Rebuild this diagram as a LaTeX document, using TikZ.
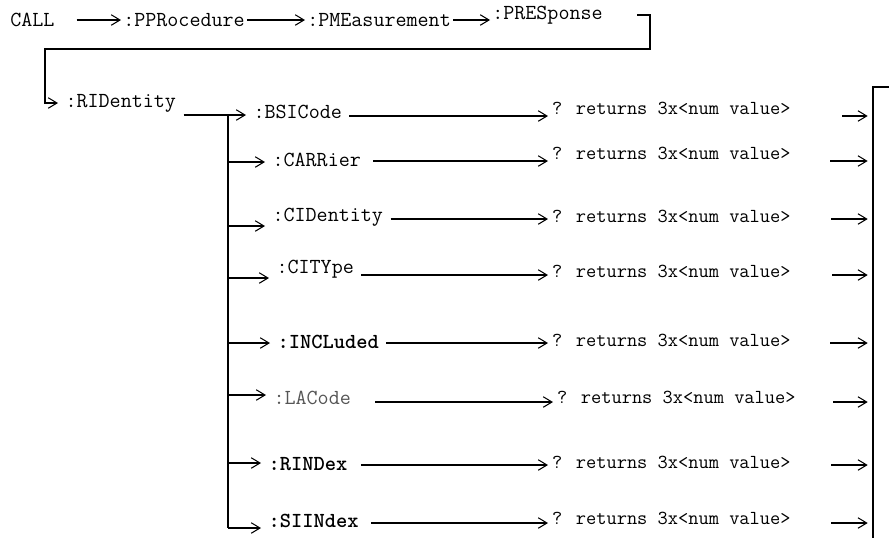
\documentclass[tikz,border=0pt]{standalone}
\usepackage{fontspec}
\usetikzlibrary{arrows.meta,calc}
\definecolor{cmdGray}{HTML}{555555}

\begin{document}
\begin{tikzpicture}[x=0.02cm,y=-0.02cm, line width=0.6pt,
    hdr/.style={anchor=west, inner xsep=1pt, inner ysep=1pt, font=\ttfamily\fontsize{12.2}{14}\selectfont},
    cmd/.style={hdr, inner xsep=4pt},
    ret/.style={hdr, inner xsep=2pt, font=\ttfamily\fontsize{11.3}{13}\selectfont},
    tip/.style={-{Straight Barb[length=5pt,width=6pt]}},
    exit/.style={tip, shorten >=3pt}]
    \useasboundingbox (0,0) rectangle (889,538);
    % command path
    \node[hdr] (call) at (8,20) {CALL};
    \node[hdr] (ppr) at (121,20) {:PPRocedure};
    \node[hdr] (pme) at (305,20) {:PMEasurement};
    \node[hdr] (pres) at (490,15) {:PRESponse};
    \draw[tip] ($(call.east)+(20,0)$) -- (ppr.west);
    \draw[tip] (ppr.east) -- (pme.west);
    \draw[tip] (pme.east) -- (pme.east -| pres.west);
    \node[cmd] (rid) at (58,103) {:RIDentity};
    \coordinate (hook) at (637,15);
    \coordinate (turn) at (45,49);
    \draw[tip] (hook) -- ++(13,0) |- (turn) |- (rid.west);
    % spine and result bar
    \coordinate (spinetop) at (228,115);
    \coordinate (spinebot) at (228,528);
    \coordinate (bartop) at (873,87);
    \coordinate (barbot) at (873,538);
    \draw (spinetop) -- (spinebot);
    \draw (889,87) -- (bartop) -- (barbot);
    % :BSICode
    \node[cmd] (bsi) at (246,112) {:BSICode};
    \node[ret] (bsiq) at (548,108) {? returns 3x<num value>};
    \coordinate (bsio) at (842,116);
    \draw[tip] (rid.east |- spinetop) -- (spinetop -| bsi.west);
    \draw[tip] (bsi.east |- bsio) -- (bsiq.west |- bsio);
    \draw[exit] (bsio) -- (bsio -| bartop);
    % :CARRier
    \node[cmd] (car) at (265,160) {:CARRier};
    \node[ret] (carq) at (548,153) {? returns 3x<num value>};
    \coordinate (cari) at (228,162);
    \coordinate (caro) at (830,161);
    \draw[tip] (cari) -- (cari -| car.west);
    \draw[tip] ($(car.east |- caro)+(5,0)$) -- (carq.west |- caro);
    \draw[exit] (caro) -- (caro -| bartop);
    % :CIDentity
    \node[cmd] (cid) at (265,217) {:CIDentity};
    \node[ret] (cidq) at (548,216) {? returns 3x<num value>};
    \coordinate (cidi) at (228,226);
    \coordinate (cido) at (831,219);
    \draw[tip] (cidi) -- (cidi -| cid.west);
    \draw[tip] (cid.east |- cido) -- (cidq.west |- cido);
    \draw[exit] (cido) -- (cido -| bartop);
    % :CITYpe
    \node[cmd] (cit) at (269,269) {:CITYpe};
    \node[ret] (citq) at (548,271) {? returns 3x<num value>};
    \coordinate (citi) at (228,278);
    \coordinate (cito) at (832,275);
    \draw[tip] (citi) -- (citi -| cit.west);
    \draw[tip] (cit.east |- cito) -- (citq.west |- cito);
    \draw[exit] (cito) -- (cito -| bartop);
    % :INCLuded
    \node[cmd, font=\ttfamily\bfseries\fontsize{12.2}{14}\selectfont] (inc) at (270,342) {:INCLuded};
    \node[ret] (incq) at (548,340) {? returns 3x<num value>};
    \coordinate (inci) at (228,343);
    \coordinate (inco) at (830,343);
    \draw[tip] (inci) -- (inci -| inc.west);
    \draw[tip] (inc.east |- inco) -- (incq.west |- inco);
    \draw[exit] (inco) -- (inco -| bartop);
    % :LACode
    \node[cmd, text=cmdGray] (lac) at (266,398) {:LACode};
    \node[ret] (lacq) at (553,397) {? returns 3x<num value>};
    \coordinate (laci) at (228,395);
    \coordinate (laco) at (833,402);
    \draw[tip] (laci) -- (laci -| lac.west);
    \draw[tip] ($(lac.east |- laco)+(17,0)$) -- (lacq.west |- laco);
    \draw[exit] (laco) -- (laco -| bartop);
    % :RINDex
    \node[cmd, font=\ttfamily\bfseries\fontsize{12.2}{14}\selectfont] (rin) at (261,464) {:RINDex};
    \node[ret] (rinq) at (548,462) {? returns 3x<num value>};
    \coordinate (rini) at (228,463);
    \coordinate (rino) at (831,465);
    \draw[tip] (rini) -- (rini -| rin.west);
    \draw[tip] ($(rin.east |- rino)+(6,0)$) -- (rinq.west |- rino);
    \draw[exit] (rino) -- (rino -| bartop);
    % :SIINdex
    \node[cmd, font=\ttfamily\bfseries\fontsize{12.2}{14}\selectfont] (sii) at (261,521) {:SIINdex};
    \node[ret] (siiq) at (548,518) {? returns 3x<num value>};
    \coordinate (siio) at (831,523);
    \draw[tip] (spinebot) -- (spinebot -| sii.west);
    \draw[tip] ($(sii.east |- siio)+(5,0)$) -- (siiq.west |- siio);
    \draw[exit] (siio) -- (siio -| bartop);
\end{tikzpicture}
\end{document}
